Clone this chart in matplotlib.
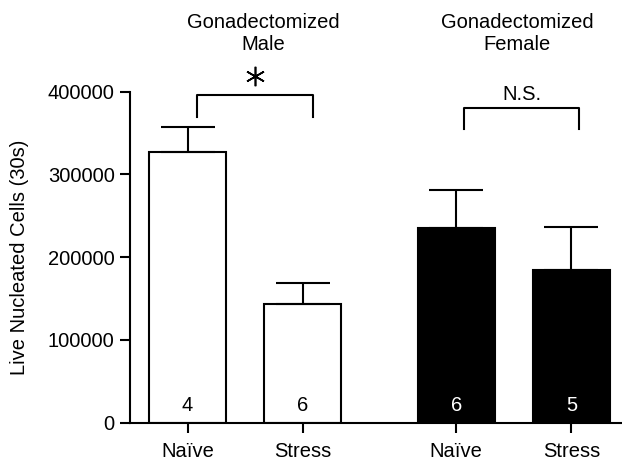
import matplotlib
matplotlib.use('Agg')
import matplotlib.pyplot as plt

plt.rcParams['font.family'] = ['Liberation Sans', 'DejaVu Sans']

labels = ['Naïve', 'Stress', 'Naïve', 'Stress']
means = [327500, 143000, 235600, 184500]
errs = [29500, 25800, 45200, 51500]
counts = ['4', '6', '6', '5']
colors = ['white', 'white', 'black', 'black']
pos = [0, 1.5, 3.5, 5.0]
fs = 14.5

fig = plt.figure(figsize=(6.22, 4.63), dpi=100)
ax = fig.add_axes([0.209, 0.087, 0.791, 0.715])

ax.bar(pos, means, width=1.0, color=colors, edgecolor='black', linewidth=1.5,
       yerr=[[0]*4, errs], capsize=19.5,
       error_kw=dict(elinewidth=1.5, capthick=1.5, ecolor='black'))

for x, c, col in zip(pos, counts, colors):
    tc = 'black' if col == 'white' else 'white'
    ax.text(x, 21000, c, ha='center', va='center', fontsize=fs, color=tc)

ax.set_xlim(-0.75, 5.66)
ax.set_ylim(0, 400000)
ax.set_yticks([0, 100000, 200000, 300000, 400000])
ax.set_yticklabels(['0', '100000', '200000', '300000', '400000'])
ax.set_xticks(pos)
ax.set_xticklabels(labels)
ax.tick_params(labelsize=fs, width=1.5, length=7, direction='out')
ax.tick_params(axis='y', pad=4)
ax.tick_params(axis='x', pad=7)
for s in ['top', 'right']:
    ax.spines[s].set_visible(False)
for s in ['left', 'bottom']:
    ax.spines[s].set_linewidth(1.5)
ax.set_ylabel('Live Nucleated Cells (30s)', fontsize=fs)
ax.yaxis.set_label_coords(-0.205, 0.5)

# significance brackets
ax.plot([0.12, 0.12, 1.63, 1.63], [370000, 396000, 396000, 370000],
        color='black', lw=1.5, clip_on=False)
ax.plot([0.875], [419000], marker=(6, 2, 0), markersize=14, mew=1.2,
        color='black', clip_on=False)
ax.plot([3.6, 3.6, 5.1, 5.1], [354600, 380000, 380000, 354600],
        color='black', lw=1.5, clip_on=False)
ax.text(4.35, 396000, 'N.S.', ha='center', va='center', fontsize=fs)

fig.text(263/622, 1-34/463, 'Gonadectomized\nMale', ha='center', va='center',
         fontsize=fs, linespacing=1.2)
fig.text(517/622, 1-34/463, 'Gonadectomized\nFemale', ha='center', va='center',
         fontsize=fs, linespacing=1.2)

fig.savefig('out.png', dpi=100)
